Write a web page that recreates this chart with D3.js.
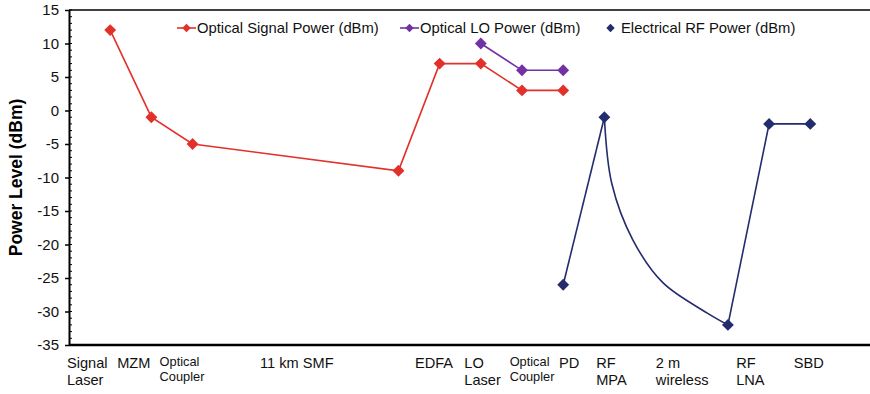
<!DOCTYPE html>
<html lang="en">
<head>
<meta charset="utf-8"/>
<title>Power level along the link</title>
<script src="https://d3js.org/d3.v7.min.js"></script>
<style>
	body { margin: 0; background: #fff; }
	text { font-family: "Liberation Sans", Arial, sans-serif; }
</style>
</head>
<body>
<svg id="chart" width="870" height="394"></svg>
<script>
// stage positions (x is the stage index along the link)
var signalX = [1, 2, 3, 8, 9, 10, 11, 12];
var signalY = [12, -1, -5, -9, 7, 7, 3, 3];

var loX = [10, 11, 12];
var loY = [10, 6, 6];

var rfX = [12, 13, 16, 17, 18];
var rfY = [-26, -1, -32, -2, -2];

var wirelessX = [13, 13.18, 13.69, 14.42, 15.49, 16];
var wirelessY = [-1, -10.9, -19.3, -25.7, -30.2, -32];

// stage labels and where each one starts
var stageNames = ["Signal\nLaser", "MZM", "Optical\nCoupler", "11 km SMF", "EDFA", "LO\nLaser",
	"Optical\nCoupler", "PD", "RF\nMPA", "2 m\nwireless", "RF\nLNA", "SBD"];
var stageAt = [-0.05, 1.17, 2.2, 4.64, 8.4, 9.6, 10.7, 11.9, 12.8, 14.25, 16.2, 17.6];

var yTicks = [15, 10, 5, 0, -5, -10, -15, -20, -25, -30, -35];

var seriesNames = ["Optical Signal Power (dBm)", "Optical LO Power (dBm)", "Electrical RF Power (dBm)"];
var colors = ["#e2302a", "#7332a3", "#232c6c"];

var svg = d3.select("#chart");
var margin = {top: 10, right: 0, bottom: 49, left: 69};
var width = 870 - margin.left - margin.right,
	height = 394 - margin.top - margin.bottom;

var x = d3.scaleLinear().domain([0, 19.45]).range([0, width]);
var y = d3.scaleLinear().domain([-35, 15]).range([height, 0]);

var g = svg.append("g").attr("transform", "translate(" + margin.left + "," + margin.top + ")");

// top frame line
g.append("line")
	.attr("x1", 0).attr("x2", width)
	.attr("y1", 0).attr("y2", 0)
	.attr("stroke", "#000").attr("stroke-width", 1.5);

// minor ticks inside the axis
var minor = d3.range(-35, 16, 1);
g.append("g").selectAll("line")
	.data(minor)
	.enter().append("line")
	.attr("x1", 0).attr("x2", 3)
	.attr("y1", function(d) { return y(d); })
	.attr("y2", function(d) { return y(d); })
	.attr("stroke", "#000").attr("stroke-width", 1);

var yAxis = g.append("g")
	.call(d3.axisLeft(y).tickValues(yTicks).tickFormat(function(d) { return String(d); })
		.tickSize(4).tickSizeOuter(0).tickPadding(6));
yAxis.select(".domain").attr("stroke-width", 2);
yAxis.selectAll(".tick line").attr("stroke-width", 1.5);
yAxis.selectAll("text")
	.attr("font-size", 15)
	.attr("font-family", "Liberation Sans, Arial, sans-serif")
	.attr("fill", "#111");

// bottom axis line
g.append("line")
	.attr("x1", 0).attr("x2", width)
	.attr("y1", height).attr("y2", height)
	.attr("stroke", "#000").attr("stroke-width", 2.5);

svg.append("text")
	.attr("transform", "translate(22," + (margin.top + height / 2) + ") rotate(-90)")
	.attr("text-anchor", "middle")
	.attr("font-size", 17.5)
	.attr("font-weight", "bold")
	.text("Power Level (dBm)");

// stage labels
var labels = g.append("g").selectAll("text")
	.data(stageNames)
	.enter().append("text")
	.attr("x", function(d, i) { return x(stageAt[i]); })
	.attr("y", height + 23)
	.attr("font-size", function(d) { return d.indexOf("Coupler") >= 0 ? 12.8 : 14.6; })
	.attr("fill", "#111");
labels.each(function(d) {
	var small = d.indexOf("Coupler") >= 0;
	var t = d3.select(this);
	if (small) t.attr("y", height + 21);
	d.split("\n").forEach(function(part, k) {
		t.append("tspan")
			.attr("x", t.attr("x"))
			.attr("dy", k ? (small ? 15 : 17) : 0)
			.text(part);
	});
});

function pts(xs, ys) { return xs.map(function(v, i) { return [v, ys[i]]; }); }

var line = d3.line()
	.x(function(d) { return x(d[0]); })
	.y(function(d) { return y(d[1]); });

var diamond = d3.symbol().type(d3.symbolDiamond2).size(90);

function drawSeries(data, color, segments) {
	var s = g.append("g");
	segments.forEach(function(seg) {
		s.append("path")
			.attr("d", line.curve(seg.curve ? d3.curveCatmullRom.alpha(0.5) : d3.curveLinear)(seg.data))
			.attr("fill", "none")
			.attr("stroke", color)
			.attr("stroke-width", 1.6);
	});
	line.curve(d3.curveLinear);
	s.selectAll("path.mk")
		.data(data)
		.enter().append("path")
		.attr("class", "mk")
		.attr("transform", function(d) { return "translate(" + x(d[0]) + "," + y(d[1]) + ")"; })
		.attr("d", diamond)
		.attr("fill", color);
}

var sig = pts(signalX, signalY);
var lo = pts(loX, loY);
var rf = pts(rfX, rfY);

drawSeries(sig, colors[0], [{data: sig}]);
drawSeries(lo, colors[1], [{data: lo}]);
drawSeries(rf, colors[2], [
	{data: rf.slice(0, 2)},
	{data: pts(wirelessX, wirelessY), curve: true},
	{data: rf.slice(2)}
]);

// legend
var legendX = [108, 331, 532];
var leg = g.append("g").selectAll("g")
	.data(seriesNames)
	.enter().append("g")
	.attr("transform", function(d, i) { return "translate(" + legendX[i] + ",18)"; });
leg.filter(function(d, i) { return i < 2; })
	.append("line")
	.attr("x1", 0).attr("x2", 19)
	.attr("stroke", function(d, i) { return colors[i]; })
	.attr("stroke-width", 1.6);
leg.append("path")
	.attr("transform", "translate(9.5,0)")
	.attr("d", d3.symbol().type(d3.symbolDiamond2).size(45))
	.attr("fill", function(d, i) { return colors[i]; });
leg.append("text")
	.attr("x", 20)
	.attr("dy", "0.35em")
	.attr("font-size", 14.8)
	.attr("fill", "#111")
	.text(function(d) { return d; });
</script>
</body>
</html>
